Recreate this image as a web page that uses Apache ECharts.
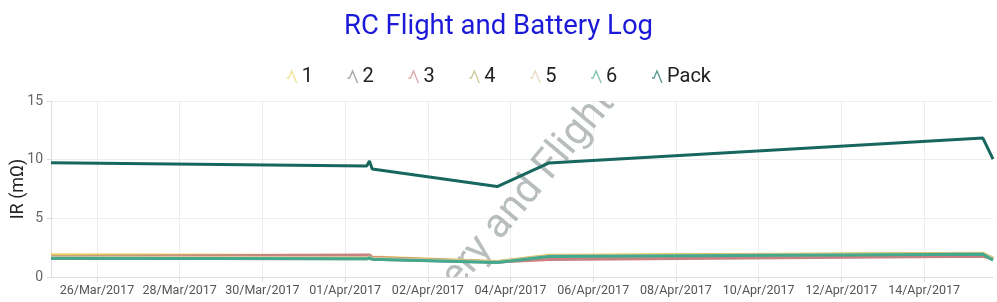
<!DOCTYPE html>
<html><head><meta charset="utf-8">
<script src="https://cdn.jsdelivr.net/npm/echarts@6/dist/echarts.min.js"></script>
<style>html,body{margin:0;padding:0;background:#fff}#c{width:997px;height:302px}</style>
</head><body><div id="c"></div>
<script>
// x = sample position along the log (tick labels mark dates)
const sampleX = [0, 68.7, 69.3, 69.9, 97.1, 108.4, 202.8, 205];
const cell1 = [1.90, 1.84, 1.84, 1.70, 1.33, 1.86, 2.03, 1.58];
const cell2 = [1.60, 1.56, 1.60, 1.52, 1.26, 1.74, 1.94, 1.50];
const cell3 = [1.74, 1.88, 1.88, 1.66, 1.28, 1.50, 1.76, 1.52];
const cell4 = [1.70, 1.66, 1.70, 1.60, 1.30, 1.82, 2.00, 1.60];
const cell5 = [1.68, 1.64, 1.68, 1.58, 1.28, 1.78, 1.98, 1.55];
const cell6 = [1.60, 1.56, 1.62, 1.52, 1.24, 1.74, 1.94, 1.44];
const pack  = [9.74, 9.45, 9.89, 9.21, 7.71, 9.72, 11.84, 10.05];
const tickX = [10, 28, 46, 64, 82, 100, 118, 136, 154, 172, 190];
const tickLabels = ['26/Mar/2017','28/Mar/2017','30/Mar/2017','01/Apr/2017','02/Apr/2017','04/Apr/2017','06/Apr/2017','08/Apr/2017','10/Apr/2017','12/Apr/2017','14/Apr/2017'];
const seriesNames = ['1','2','3','4','5','6','Pack'];
const seriesValues = [cell1, cell2, cell3, cell4, cell5, cell6, pack];
const colors = ['#ecd35e','#7c7c80','#c98080','#b3b46a','#e3c9a6','#44a98c','#17675f'];
const watermark = 'Battery and Flight Log';

const chart = echarts.init(document.getElementById('c'));
const iconPath = 'path://M0,7 L2,7 L5,0 L10,12';
const series = seriesNames.map((n, i) => ({
  name: n, type: 'line', symbol: 'none', z: 3,
  color: colors[i],
  lineStyle: { width: 3, color: colors[i] },
  data: sampleX.map((x, j) => [x, seriesValues[i][j]])
}));
series.unshift({
  type: 'custom', clip: true, z: 1, silent: true, data: [[0, 0]],
  renderItem: (params, api) => {
    const cs = params.coordSys;
    return {
      type: 'text', x: cs.x + cs.width / 2 + 8, y: cs.y + cs.height / 2,
      rotation: 50 * Math.PI / 180,
      style: { text: watermark, fontSize: 41, fontFamily: 'Roboto', fill: 'rgba(125,135,135,0.55)', align: 'center', verticalAlign: 'middle' }
    };
  }
});
chart.setOption({
  animation: false,
  textStyle: { fontFamily: 'Roboto' },
  title: { text: 'RC Flight and Battery Log', left: 'center', top: 8,
    textStyle: { color: '#1a1ad8', fontSize: 27.5, fontWeight: 'normal', fontFamily: 'Roboto' } },
  legend: { top: 62, left: 'center', icon: iconPath, itemWidth: 10, itemHeight: 13, itemGap: 34,
    data: seriesNames.map((n, i) => ({ name: n, icon: iconPath,
      itemStyle: { color: 'rgba(255,255,255,0)', borderColor: colors[i], borderWidth: 1.3, opacity: 0.7 } })),
    textStyle: { fontSize: 20, color: '#222', fontFamily: 'Roboto' } },
  grid: { left: 51, right: 4, top: 101, bottom: 25, outerBoundsMode: 'none', containLabel: false },
  xAxis: { type: 'value', min: 0, max: 205,
    axisLine: { lineStyle: { color: '#ddd' } },
    axisTick: { customValues: tickX, length: 5, lineStyle: { color: '#ddd' } },
    axisLabel: { customValues: tickX, fontSize: 12.5, color: '#555', margin: 7, hideOverlap: false,
      formatter: v => tickLabels[tickX.indexOf(v)] || '' },
    splitLine: { show: true, lineStyle: { color: '#eee' } } },
  yAxis: { type: 'value', min: 0, max: 15, interval: 5, name: 'IR (mΩ)', nameLocation: 'middle', nameGap: 24,
    nameMoveOverlap: false,
    nameTextStyle: { fontSize: 18, color: '#222' },
    axisLine: { show: true, lineStyle: { color: '#ddd' } },
    axisTick: { show: true, length: 4, lineStyle: { color: '#ddd' } },
    axisLabel: { fontSize: 14, color: '#666', margin: 8 },
    splitLine: { lineStyle: { color: '#eee' } } },
  series
});
</script></body></html>
